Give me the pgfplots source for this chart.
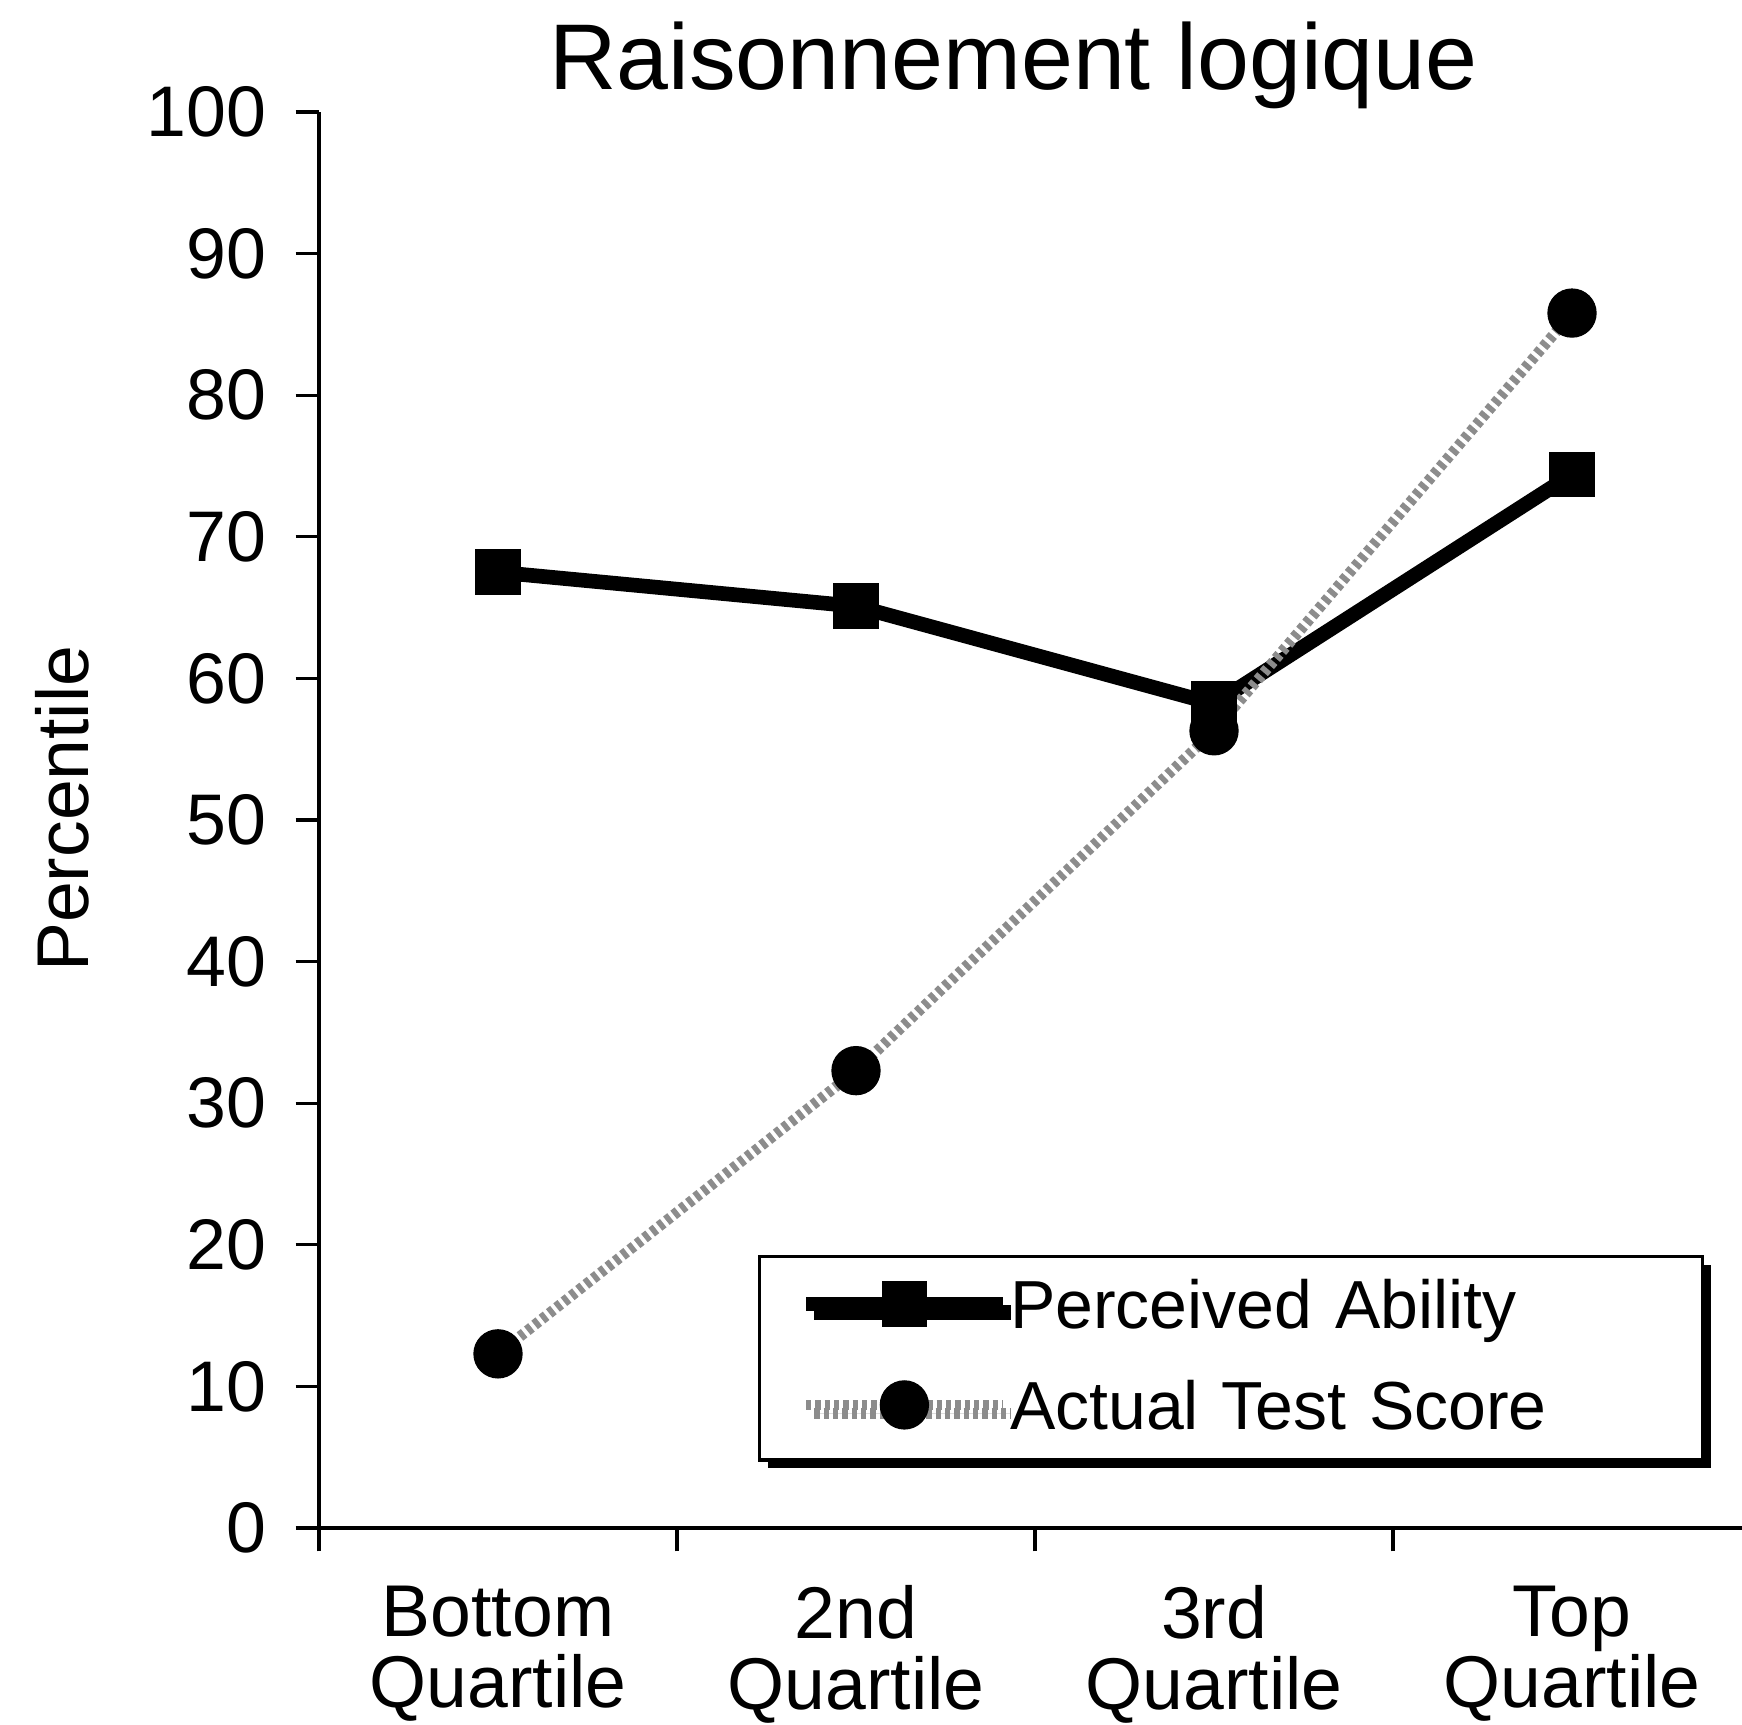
\documentclass[border=0pt]{standalone}
\usepackage{fontspec}
\setmainfont{Liberation Sans}
\usepackage{pgfplots}
\pgfplotsset{compat=1.18}
\usetikzlibrary{shadows}

\newcommand\tickfont{\fontsize{21.5}{23}\selectfont}
\newcommand\catfont{\fontsize{22}{21.3}\selectfont}

\begin{document}
\begin{tikzpicture}
\begin{axis}[
  scale only axis,
  width=429.6pt, height=424.8pt,
  xmin=0, xmax=4, ymin=0, ymax=100,
  axis x line=bottom, axis y line=left,
  axis line style={line width=1pt, -},
  tick align=outside, major tick length=7pt,
  tick style={line width=1pt, black},
  xtick={0,1,2,3,4},
  x tick label as interval,
  xticklabels={{Bottom\\Quartile},{2nd\\Quartile},{3rd\\Quartile},{Top\\Quartile}},
  xticklabel style={align=center, font=\catfont, inner ysep=0pt, yshift=-10.1pt},
  ytick={0,10,...,100},
  yticklabel style={font=\tickfont, xshift=-5.3pt},
  /pgf/number format/assume math mode=true,
  ylabel={Percentile},
  ylabel style={at={(axis description cs:-0.179,0.508)}, anchor=center,
    font=\fontsize{22}{24}\selectfont},
  title={Raisonnement logique},
  title style={at={(axis description cs:0.485,1)}, anchor=base, yshift=0.8pt,
    font=\fontsize{28}{30}\selectfont},
  clip=false,
  legend style={at={(axis description cs:0.3066,0.193)}, anchor=north west,
    draw=black, line width=1pt, fill=white,
    drop shadow={fill=black, opacity=1, shadow xshift=2.5pt, shadow yshift=-2.5pt},
    inner xsep=11.7pt, inner ysep=6.9pt, row sep=13.3pt, column sep=0pt,
    font=\fontsize{20.4}{24}\selectfont,
    nodes={inner xsep=0pt, inner ysep=0pt, text height=14.7pt, text depth=2.3pt,
      text width=196pt}},
  legend cell align=left,
  legend image code/.code={
    \draw[mark repeat=2, mark phase=2, #1]
      plot coordinates {(0pt,1.15pt) (29.5pt,1.15pt) (59pt,1.15pt)};},
]
% Perceived Ability
\addplot[black, line width=4.4pt, mark=square*, mark size=6.6pt,
  mark options={solid, line width=0.5pt}]
  coordinates {(0.5,67.5) (1.5,65.1) (2.5,58.2) (3.5,74.4)};
\addlegendentry{Perceived Ability}
% Actual Test Score
\addplot[black!45, line width=3.2pt, dash pattern=on 1.6pt off 1.2pt, mark=*,
  mark size=7.2pt, mark options={solid, fill=black, draw=black, line width=0.4pt}]
  coordinates {(0.5,12.3) (1.5,32.3) (2.5,56.3) (3.5,85.8)};
\addlegendentry{Actual Test Score}
\end{axis}
\pgfresetboundingbox
\path ([xshift=-95.7pt,yshift=-58.8pt]current axis.south west)
  rectangle ([xshift=-2.7pt,yshift=33.6pt]current axis.north east);
\end{tikzpicture}
\end{document}
